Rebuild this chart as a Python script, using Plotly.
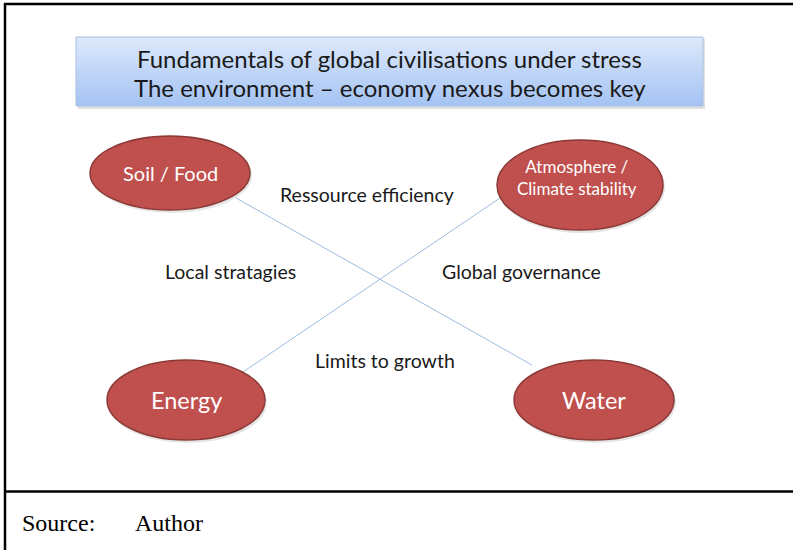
import plotly.graph_objects as go

W, H = 793, 550

# ---- content ----
title_lines = ["Fundamentals of global civilisations under stress",
               "The environment \u2013 economy nexus becomes key"]
node_labels = ["Soil / Food", "Atmosphere /<br>Climate stability", "Energy", "Water"]
link_pairs = [(0, 3), (2, 1)]
relation_labels = ["Ressource efficiency", "Local stratagies", "Global governance", "Limits to growth"]
source_labels = ["Source:", "Author"]

# ---- layout (positions/sizes/styles) ----
node_centers = [(170, 173), (580, 185), (186, 400), (594, 400)]
node_radii = [(80, 37), (83, 45), (79, 40), (80, 40)]
node_text_pos = [(170, 173), (577, 177), (186, 400), (594, 400)]
node_font = [20, 17, 23.5, 23.5]
link_ends = {(0, 3): ((236, 198), (532, 365)), (2, 1): ((243, 372), (500, 198))}
relation_pos = [(367, 194), (230, 271), (521, 271), (385, 360)]
source_x = [20, 133]
box = (76, 37, 703, 106)

fig = go.Figure()
shapes = []

# frame
shapes.append(dict(type="line", x0=4, x1=W + 5, y0=4, y1=4, line=dict(color="black", width=2.5)))
shapes.append(dict(type="line", x0=5, x1=5, y0=3, y1=H + 5, line=dict(color="black", width=2.5)))
shapes.append(dict(type="line", x0=4, x1=W + 5, y0=491.5, y1=491.5, line=dict(color="black", width=2.5)))

# title box shadow
bx0, by0, bx1, by1 = box
shapes.append(dict(type="rect", x0=bx0 + 2, x1=bx1 + 2, y0=by0 + 2, y1=by1 + 3,
                   fillcolor="rgba(0,0,0,0.12)", line=dict(width=0), layer="below"))
# title box gradient
fig.add_trace(go.Scatter(
    x=[bx0, bx1, bx1, bx0, bx0], y=[by0, by0, by1, by1, by0],
    mode="lines", fill="toself",
    fillgradient=dict(type="vertical", colorscale=[[0, "#a4c3f3"], [1, "#dde9fb"]]),
    line=dict(color="#a9c0e2", width=1), hoverinfo="skip", showlegend=False))

# links
for pair in link_pairs:
    (xa, ya), (xb, yb) = link_ends[pair]
    shapes.append(dict(type="line", x0=xa, y0=ya, x1=xb, y1=yb,
                       line=dict(color="#9ebbe0", width=1)))

# nodes
for (cx, cy), (rx, ry) in zip(node_centers, node_radii):
    shapes.append(dict(type="circle", x0=cx - rx + 1, x1=cx + rx + 2, y0=cy - ry + 2, y1=cy + ry + 3,
                       fillcolor="rgba(0,0,0,0.10)", line=dict(width=0)))
    shapes.append(dict(type="circle", x0=cx - rx, x1=cx + rx, y0=cy - ry, y1=cy + ry,
                       fillcolor="#c0504d", line=dict(color="#8c3a37", width=1.5)))

annotations = []
for i, line in enumerate(title_lines):
    annotations.append(dict(x=(bx0 + bx1) / 2, y=58 + 29 * i, text=line, showarrow=False,
                            font=dict(family="Lato", size=24, color="#1a1a1a"),
                            xanchor="center", yanchor="middle"))
for lab, (cx, cy), fs in zip(node_labels, node_text_pos, node_font):
    annotations.append(dict(x=cx, y=cy, text=lab, showarrow=False,
                            font=dict(family="Lato", size=fs, color="white"),
                            xanchor="center", yanchor="middle"))
for lab, (x, y) in zip(relation_labels, relation_pos):
    annotations.append(dict(x=x, y=y, text=lab, showarrow=False,
                            font=dict(family="Lato", size=19.5, color="#1a1a1a"),
                            xanchor="center", yanchor="middle"))
for lab, x in zip(source_labels, source_x):
    annotations.append(dict(x=x, y=523, text=lab, showarrow=False,
                            font=dict(family="Liberation Serif", size=24, color="black"),
                            xanchor="left", yanchor="middle"))

fig.update_layout(
    width=W, height=H, margin=dict(l=0, r=0, t=0, b=0),
    paper_bgcolor="white", plot_bgcolor="white",
    xaxis=dict(range=[0, W], visible=False, fixedrange=True),
    yaxis=dict(range=[H, 0], visible=False, fixedrange=True),
    shapes=shapes, annotations=annotations, showlegend=False,
)

fig.write_html("out.html", config={"displayModeBar": False},
               post_script="document.body.style.margin='0';document.body.style.padding='0';"
                           "document.body.style.overflow='hidden';")
